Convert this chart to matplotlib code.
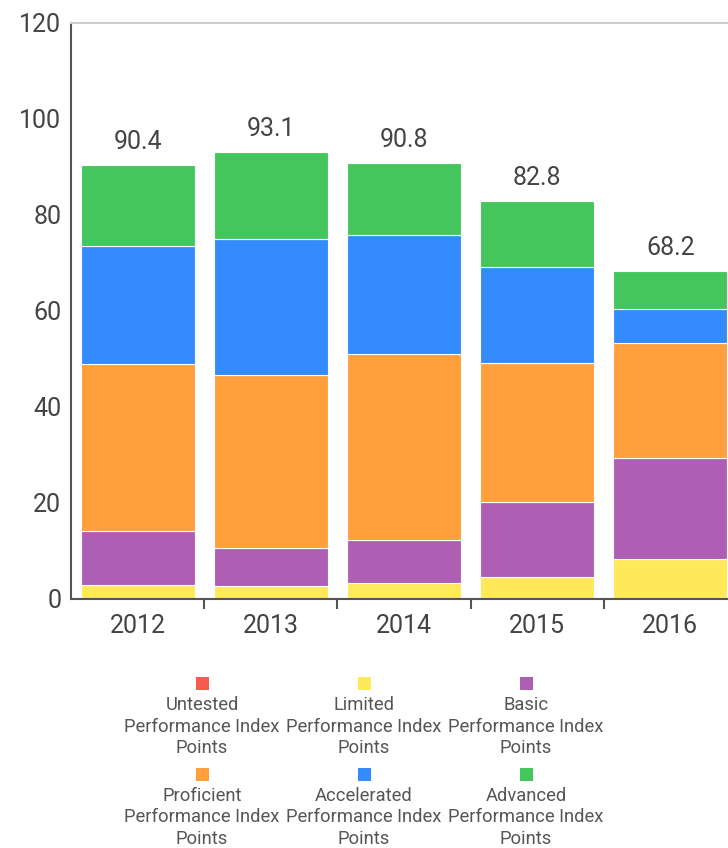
import matplotlib
matplotlib.use("Agg")
import matplotlib.pyplot as plt
from matplotlib.patches import Rectangle
import numpy as np

plt.rcParams['font.family'] = ['Roboto', 'DejaVu Sans']

years = ["2012", "2013", "2014", "2015", "2016"]
series_names = [
    "Untested\nPerformance Index\nPoints",
    "Limited\nPerformance Index\nPoints",
    "Basic\nPerformance Index\nPoints",
    "Proficient\nPerformance Index\nPoints",
    "Accelerated\nPerformance Index\nPoints",
    "Advanced\nPerformance Index\nPoints",
]
colors = ["#F55C4E", "#FEE95A", "#AE5FB4", "#FFA03C", "#348BFE", "#45C65D"]
untested = [0.0, 0.0, 0.0, 0.0, 0.0]
limited = [2.8, 2.6, 3.2, 4.5, 8.2]
basic = [11.3, 7.9, 9.0, 15.7, 21.0]
proficient = [34.7, 36.0, 38.8, 28.9, 24.1]
accelerated = [24.7, 28.4, 24.8, 20.0, 7.1]
advanced = [16.9, 18.2, 15.0, 13.7, 7.8]
totals = [90.4, 93.1, 90.8, 82.8, 68.2]
yticks = [0, 20, 40, 60, 80, 100, 120]

series = [untested, limited, basic, proficient, accelerated, advanced]

W, H = 728, 848
fig = plt.figure(figsize=(W / 100, H / 100), dpi=100)
ax = fig.add_axes([71 / W, 249.5 / H, 666 / W, 575.5 / H])

x = np.arange(len(years))
bottom = np.zeros(len(years))
for vals, col in zip(series, colors):
    v = np.array(vals)
    ax.bar(x, v, width=0.857, bottom=bottom, color=col,
           edgecolor="white", linewidth=0.8 if v.sum() > 0 else 0, zorder=2)
    bottom += v

for xi, t in zip(x, totals):
    ax.annotate(f"{t:.1f}", (xi, t), xytext=(0, 8), textcoords="offset points",
                ha="center", va="bottom", fontsize=18, color="#444444")

ax.set_xlim(-0.5, len(years) - 0.5)
ax.set_ylim(0, 120)
ax.set_yticks(yticks)
ax.set_yticklabels([str(v) for v in yticks])
ax.set_xticks(x)
ax.set_xticklabels(years)
ax.set_xticks(np.arange(0.5, len(years) - 0.5, 1.0), minor=True)
ax.tick_params(axis="x", which="major", length=0, pad=11, labelsize=18, labelcolor="#444444")
ax.tick_params(axis="x", which="minor", length=7, width=1.5, color="#555555", direction="out")
ax.tick_params(axis="y", length=0, pad=7, labelsize=18, labelcolor="#444444")

for s in ["left", "bottom"]:
    ax.spines[s].set_color("#555555")
    ax.spines[s].set_linewidth(1.5)
ax.spines["top"].set_color("#cccccc")
ax.spines["top"].set_linewidth(1.5)
ax.spines["right"].set_visible(False)

# legend: 3 columns x 2 rows, centered text under squares
col_x = [202, 364, 526]
row_sq_y = [683, 774]
sq = 13
for i, (name, col) in enumerate(zip(series_names, colors)):
    r, c = divmod(i, 3)
    cx = col_x[c]
    cy = row_sq_y[r]
    fig.patches.append(Rectangle(((cx - sq / 2) / W, 1 - (cy + sq / 2) / H), sq / W, sq / H,
                                 transform=fig.transFigure, facecolor=col, edgecolor="none"))
    fig.text(cx / W, 1 - (cy + 13) / H, name, ha="center", va="top",
             fontsize=13.2, color="#555555", linespacing=1.25)

fig.savefig("out.png", dpi=100)
